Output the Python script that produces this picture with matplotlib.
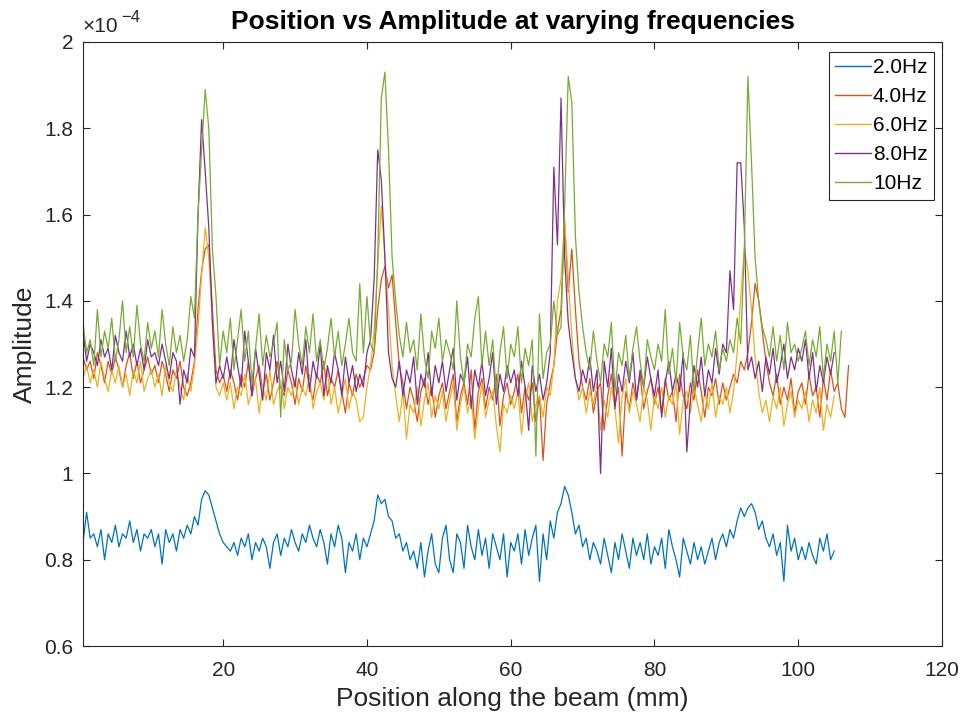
"""Position vs amplitude of the beam response at several drive frequencies."""

import numpy as np
import matplotlib
matplotlib.use('Agg')
import matplotlib.pyplot as plt
from matplotlib.ticker import FuncFormatter

STEP = 0.5  # mm between samples
START = 0.5

LABELS = ['2.0Hz', '4.0Hz', '6.0Hz', '8.0Hz', '10Hz']
COLORS = ['#0072BD', '#D95319', '#EDB120', '#7E2F8E', '#77AC30']

# amplitudes, in units of 1e-6
AMP_2HZ = [
    84, 91, 85, 86, 83, 87, 80, 86, 84, 88, 83, 86, 85, 89, 84, 87, 82, 86, 85, 87,
    83, 86, 79, 87, 84, 86, 82, 87, 85, 88, 86, 90, 88, 94, 96, 95, 92, 89, 86, 84,
    83, 82, 84, 81, 85, 83, 86, 80, 84, 82, 85, 83, 78, 84, 86, 81, 85, 83, 87, 84,
    82, 86, 84, 88, 85, 83, 87, 84, 79, 86, 83, 88, 85, 77, 84, 82, 86, 80, 85, 83,
    86, 89, 95, 93, 94, 90, 89, 85, 86, 82, 84, 80, 82, 78, 84, 76, 82, 86, 79, 77,
    85, 88, 80, 77, 86, 84, 78, 88, 83, 80, 87, 81, 85, 78, 86, 83, 80, 86, 76, 84,
    82, 86, 79, 87, 81, 85, 88, 75, 86, 80, 89, 85, 91, 93, 97, 95, 91, 86, 88, 83,
    85, 80, 84, 82, 79, 85, 81, 77, 84, 80, 86, 82, 78, 85, 81, 84, 80, 86, 79, 83,
    81, 85, 78, 87, 83, 80, 76, 85, 82, 79, 84, 80, 83, 79, 82, 85, 80, 84, 86, 83,
    87, 85, 89, 92, 90, 92, 93, 91, 87, 89, 85, 83, 86, 81, 84, 75, 88, 82, 85, 80,
    83, 80, 84, 81, 79, 85, 82, 86, 80, 82,
]

AMP_4HZ = [
    127, 124, 126, 122, 128, 125, 121, 126, 123, 127, 124, 120, 125, 128, 122, 126, 121, 124, 127, 123,
    125, 121, 126, 123, 119, 124, 122, 126, 120, 118, 121, 126, 138, 147, 152, 153, 138, 124, 121, 123,
    119, 124, 121, 117, 123, 120, 126, 118, 122, 125, 119, 123, 117, 121, 126, 120, 118, 124, 121, 116,
    122, 119, 125, 120, 117, 123, 121, 126, 118, 122, 120, 124, 119, 114, 121, 118, 123, 120, 122, 125,
    124, 128, 138, 145, 148, 143, 146, 135, 125, 121, 115, 120, 117, 112, 119, 122, 116, 120, 113, 118,
    121, 115, 119, 123, 112, 118, 121, 116, 124, 110, 119, 122, 115, 120, 117, 123, 111, 118, 121, 116,
    119, 123, 114, 120, 117, 121, 112, 118, 103, 116, 121, 125, 133, 138, 158, 142, 152, 138, 126, 120,
    117, 122, 114, 119, 121, 110, 118, 123, 116, 120, 104, 119, 115, 121, 117, 123, 115, 119, 122, 116,
    120, 114, 122, 117, 119, 112, 123, 118, 115, 121, 117, 124, 119, 113, 120, 118, 122, 116, 121, 117,
    120, 123, 121, 126, 124, 128, 135, 144, 140, 133, 126, 121, 118, 123, 116, 120, 117, 122, 114, 119,
    121, 116, 123, 118, 120, 113, 122, 117, 124, 119, 121, 115, 113, 125,
]

AMP_6HZ = [
    122, 125, 121, 124, 120, 126, 122, 119, 124, 121, 125, 120, 123, 118, 124, 121, 126, 119, 122, 124,
    120, 123, 118, 125, 121, 119, 124, 120, 117, 123, 119, 125, 134, 146, 157, 150, 135, 120, 118, 121,
    117, 121, 115, 120, 118, 123, 116, 119, 122, 114, 120, 117, 124, 116, 119, 121, 115, 120, 118, 122,
    116, 120, 118, 123, 115, 119, 121, 117, 124, 116, 120, 114, 118, 122, 115, 119, 117, 112, 113, 120,
    125, 133, 148, 162, 150, 138, 125, 118, 112, 119, 108, 116, 114, 120, 111, 117, 121, 113, 118, 115,
    119, 112, 117, 121, 110, 116, 120, 114, 118, 108, 115, 121, 113, 117, 119, 111, 105, 116, 114, 118,
    115, 119, 109, 117, 121, 112, 116, 118, 113, 120, 118, 125, 140, 145, 159, 145, 132, 122, 117, 120,
    114, 119, 116, 121, 110, 117, 113, 120, 115, 107, 118, 122, 114, 119, 116, 112, 120, 117, 110, 118,
    115, 120, 113, 118, 116, 121, 109, 117, 119, 114, 120, 116, 112, 119, 115, 121, 113, 118, 116, 120,
    114, 119, 128, 141, 152, 147, 138, 127, 119, 114, 117, 112, 118, 115, 120, 111, 116, 119, 113, 117,
    115, 119, 112, 117, 114, 120, 110, 116, 113, 118,
]

AMP_8HZ = [
    133, 126, 130, 128, 125, 131, 127, 129, 124, 132, 128, 126, 133, 127, 130, 125, 129, 124, 131, 127,
    128, 125, 130, 126, 122, 128, 126, 116, 124, 121, 129, 127, 160, 182, 170, 157, 135, 121, 125, 122,
    127, 122, 131, 125, 120, 133, 126, 118, 129, 123, 117, 128, 124, 132, 121, 126, 119, 130, 124, 120,
    128, 123, 131, 119, 126, 122, 130, 118, 125, 121, 128, 124, 118, 127, 121, 125, 119, 123, 120, 128,
    131, 145, 175, 168, 150, 128, 122, 120, 126, 118, 124, 121, 127, 116, 123, 120, 128, 118, 125, 121,
    126, 119, 124, 129, 117, 123, 121, 127, 115, 124, 120, 126, 118, 122, 128, 116, 123, 119, 125, 121,
    124, 118, 126, 120, 110, 125, 119, 123, 117, 121, 128, 171, 153, 187, 150, 135, 128, 122, 119, 124,
    121, 127, 119, 124, 100, 126, 120, 129, 115, 123, 119, 126, 121, 128, 117, 124, 120, 127, 122, 118,
    124, 113, 121, 126, 119, 123, 119, 128, 105, 117, 125, 120, 127, 118, 124, 121, 129, 123, 130, 128,
    147, 138, 172, 172, 157, 124, 127, 122, 126, 119, 127, 123, 129, 121, 125, 130, 122, 127, 124, 129,
    126, 131, 122, 128, 119, 125, 121, 127, 123, 128,
]

AMP_10HZ = [
    135, 128, 131, 125, 138, 127, 133, 129, 136, 126, 131, 140, 128, 134, 127, 139, 130, 126, 135, 129,
    133, 127, 138, 130, 125, 134, 128, 132, 126, 131, 141, 136, 160, 175, 189, 180, 152, 141, 125, 133,
    128, 136, 124, 131, 138, 126, 133, 121, 129, 137, 125, 132, 127, 130, 135, 113, 131, 124, 126, 138,
    130, 125, 134, 128, 137, 126, 131, 124, 129, 136, 127, 133, 125, 130, 136, 128, 126, 144, 128, 141,
    130, 128, 150, 187, 193, 175, 150, 140, 132, 127, 135, 128, 131, 124, 137, 127, 122, 133, 129, 136,
    126, 131, 128, 124, 140, 127, 121, 130, 127, 136, 141, 125, 133, 125, 131, 118, 128, 134, 122, 130,
    127, 134, 121, 129, 125, 131, 104, 137, 122, 128, 130, 140, 132, 134, 162, 192, 186, 155, 142, 134,
    128, 124, 133, 126, 121, 130, 127, 135, 119, 128, 125, 132, 122, 129, 134, 126, 120, 131, 127, 124,
    130, 126, 138, 123, 129, 121, 135, 127, 124, 132, 119, 128, 136, 125, 130, 127, 133, 124, 129, 126,
    131, 128, 136, 130, 152, 192, 172, 150, 140, 134, 131, 127, 134, 126, 132, 124, 135, 128, 130, 126,
    129, 133, 125, 131, 127, 134, 122, 130, 126, 133, 121, 133,
]

SERIES = [AMP_2HZ, AMP_4HZ, AMP_6HZ, AMP_8HZ, AMP_10HZ]

DARK = '#262626'


def make_plot():
    """Draw all frequency traces in the MATLAB default look."""
    plt.rcParams['font.family'] = ['Liberation Sans', 'DejaVu Sans']

    fig = plt.figure(figsize=(9.63, 7.19), dpi=100)
    ax = fig.add_axes([0.0862, 0.1015, 0.8920, 0.8401])

    for amps, label, color in zip(SERIES, LABELS, COLORS):
        amps = np.array(amps) / 100.0  # plotted in units of 1e-4
        pos = START + STEP * np.arange(len(amps))
        ax.plot(pos, amps, color=color, lw=0.9, label=label)

    ax.set_xlim(0.5, 120)
    ax.set_ylim(0.6, 2.0)
    ax.set_xticks([20, 40, 60, 80, 100, 120])
    ax.set_yticks(np.arange(0.6, 2.01, 0.2))
    ax.yaxis.set_major_formatter(FuncFormatter(lambda v, p: '%g' % round(v, 1)))

    ax.tick_params(direction='in', length=5, width=0.8, colors=DARK,
                   labelsize=15, top=True, right=True)
    ax.tick_params(axis='x', pad=11)
    ax.tick_params(axis='y', pad=7)
    for spine in ax.spines.values():
        spine.set_color(DARK)
        spine.set_linewidth(0.8)

    ax.set_title('Position vs Amplitude at varying frequencies',
                 fontsize=19, fontweight='bold', pad=9)
    ax.set_xlabel('Position along the beam (mm)', fontsize=19, color=DARK,
                  labelpad=5)
    ax.set_ylabel('Amplitude', fontsize=19, color=DARK, labelpad=5)

    # exponent label, as MATLAB puts it above the y axis
    ax.text(0.0, 1.010, '\u00d710', transform=ax.transAxes, fontsize=15,
            color=DARK, ha='left', va='bottom')
    ax.text(0.045, 1.028, '\u22124', transform=ax.transAxes, fontsize=12,
            color=DARK, ha='left', va='bottom')

    leg = ax.legend(loc='upper right', bbox_to_anchor=(0.991, 0.984),
                    borderaxespad=0, fontsize=15, fancybox=False,
                    framealpha=1, edgecolor=DARK, handlelength=1.7,
                    handletextpad=0.1, labelspacing=0.48, borderpad=0.32)
    leg.get_frame().set_linewidth(0.8)
    for line in leg.get_lines():
        line.set_linewidth(1.0)

    fig.savefig('out.png', dpi=100)


if __name__ == '__main__':
    make_plot()
